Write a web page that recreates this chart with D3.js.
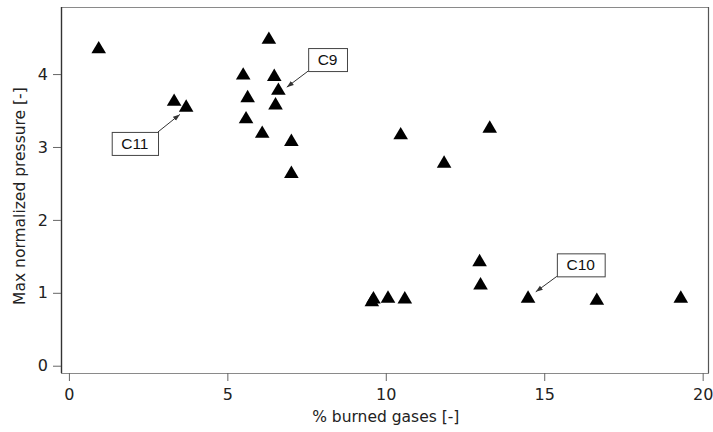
<!DOCTYPE html>
<html>
<head>
<meta charset="utf-8">
<script src="https://cdn.jsdelivr.net/npm/d3@7"></script>
<style>
  html, body { margin: 0; padding: 0; background: #fff; }
  svg { display: block; }
</style>
</head>
<body>
<svg id="chart" width="713" height="432"></svg>
<script>
// ---- data ----
const burnedGases = [0.94, 3.32, 3.70, 6.31, 5.50, 6.48, 6.61, 5.64, 6.52, 5.59, 6.10, 7.02, 7.02,
                     10.47, 13.28, 11.84, 9.61, 9.56, 10.07, 10.60, 12.96, 12.99, 14.49, 16.66, 19.31];
const maxPressure = [4.37, 3.65, 3.57, 4.50, 4.01, 3.99, 3.80, 3.70, 3.60, 3.41, 3.21, 3.10, 2.66,
                     3.19, 3.28, 2.80, 0.94, 0.90, 0.95, 0.94, 1.45, 1.13, 0.95, 0.92, 0.95];
const xTicks = [0, 5, 10, 15, 20];
const yTicks = [0, 1, 2, 3, 4];
const annotationLabels = ["C11", "C9", "C10"];
const annotationTargets = [2, 6, 22]; // index of the annotated point

// ---- layout ----
const plot = { left: 61, right: 709, top: 7, bottom: 373 };
const svg = d3.select("#chart");

const x = d3.scaleLinear().domain([-0.25, 20.2]).range([plot.left, plot.right]);
const y = d3.scaleLinear().domain([-0.1, 4.92]).range([plot.bottom, plot.top]);

const tickFont = "'DejaVu Sans', 'Lucida Grande', sans-serif";
const fmt = d3.format("d");

// frame
svg.append("line").attr("x1", plot.left).attr("x2", plot.right).attr("y1", plot.top + 0.5).attr("y2", plot.top + 0.5)
  .attr("stroke", "#8a8a8a").attr("stroke-width", 1.2);
svg.append("line").attr("x1", plot.right - 0.5).attr("x2", plot.right - 0.5).attr("y1", plot.top).attr("y2", plot.bottom)
  .attr("stroke", "#555").attr("stroke-width", 1.2);

// x axis
const xAxis = svg.append("g").attr("transform", `translate(0,${plot.bottom})`)
  .call(d3.axisBottom(x).tickValues(xTicks).tickFormat(fmt).tickSize(8).tickPadding(8).tickSizeOuter(0));
xAxis.select(".domain").attr("stroke", "#8a8a8a").attr("stroke-width", 1.2)
  .attr("d", `M${plot.left},0.5H${plot.right}`);
xAxis.selectAll(".tick line").attr("stroke", "#666").attr("stroke-width", 1);
xAxis.selectAll(".tick text").attr("font-family", tickFont).attr("font-size", 16).attr("fill", "#222");

// y axis
const yAxis = svg.append("g").attr("transform", `translate(${plot.left},0)`)
  .call(d3.axisLeft(y).tickValues(yTicks).tickFormat(fmt).tickSize(8).tickPadding(5).tickSizeOuter(0));
yAxis.select(".domain").attr("stroke", "#333").attr("stroke-width", 1.4)
  .attr("d", `M0.5,${plot.top}V${plot.bottom}`);
yAxis.selectAll(".tick line").attr("stroke", "#666").attr("stroke-width", 1);
yAxis.selectAll(".tick text").attr("font-family", tickFont).attr("font-size", 16).attr("fill", "#222");

// axis titles
svg.append("text").attr("x", (x(0) + x(20)) / 2).attr("y", 422)
  .attr("text-anchor", "middle").attr("font-family", tickFont).attr("font-size", 15.5).attr("fill", "#222")
  .text("% burned gases [-]");
svg.append("text").attr("transform", `translate(25,${(y(0) + y(4.9)) / 2 + 9}) rotate(-90)`)
  .attr("text-anchor", "middle").attr("font-family", tickFont).attr("font-size", 15.5).attr("fill", "#222")
  .text("Max normalized pressure [-]");

// triangle markers
const triHalfW = 7.3, triH = 12.4;
const triangle = { draw(ctx) {
  ctx.moveTo(0, -triH / 2);
  ctx.lineTo(triHalfW, triH / 2);
  ctx.lineTo(-triHalfW, triH / 2);
  ctx.closePath();
} };
const pts = burnedGases.map((v, i) => ({ x: v, y: maxPressure[i] }));
svg.append("g").selectAll("path").data(pts).join("path")
  .attr("transform", d => `translate(${x(d.x)},${y(d.y)})`)
  .attr("d", d3.symbol().type(triangle)())
  .attr("fill", "#000");

// annotations
const defs = svg.append("defs");
defs.append("marker").attr("id", "arrow").attr("viewBox", "0 0 10 10").attr("refX", 10).attr("refY", 5)
  .attr("markerWidth", 7).attr("markerHeight", 7).attr("markerUnits", "userSpaceOnUse").attr("orient", "auto")
  .append("path").attr("d", "M0,1.5L10,5L0,8.5Z").attr("fill", "#333");

const boxOffsets = [[-51.3, 38], [49.2, -29.1], [52.7, -31.6]];
const tipOffsets = [[-6.3, 9], [8.4, -1.5], [7.7, -4.6]];
annotationLabels.forEach((lab, i) => {
  const p = pts[annotationTargets[i]];
  const px = x(p.x), py = y(p.y);
  const cx = px + boxOffsets[i][0], cy = py + boxOffsets[i][1];
  const g = svg.append("g");
  const t = g.append("text").attr("x", cx).attr("y", cy + 5.5).attr("text-anchor", "middle")
    .attr("font-family", "'Liberation Sans', Arial, sans-serif").attr("font-size", 15.5).attr("fill", "#111")
    .text(lab);
  const bb = t.node().getBBox();
  const bw = bb.width + 19, bh = 23;
  const bx = cx - bw / 2, by = cy - bh / 2;
  g.insert("rect", "text").attr("x", bx + 0.5).attr("y", by + 0.5).attr("width", bw).attr("height", bh)
    .attr("fill", "#fff").attr("stroke", "#444").attr("stroke-width", 1);
  const sx = boxOffsets[i][0] < 0 ? bx + bw : bx;
  const sy = boxOffsets[i][1] < 0 ? by + bh : by;
  svg.append("line").attr("x1", sx).attr("y1", sy)
    .attr("x2", px + tipOffsets[i][0]).attr("y2", py + tipOffsets[i][1])
    .attr("stroke", "#333").attr("stroke-width", 1).attr("marker-end", "url(#arrow)");
});
</script>
</body>
</html>
